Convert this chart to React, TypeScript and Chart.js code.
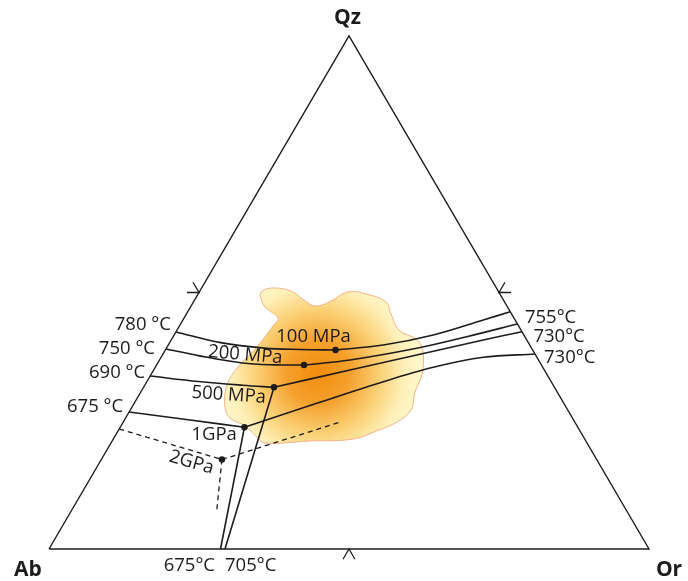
import { useEffect, useRef } from "react";
import { Chart, registerables } from "chart.js";

Chart.register(...registerables);

// All points are ternary compositions [Qz %, Or %]  (Ab = 100 - Qz - Or)
const vertexNames = ["Ab", "Or", "Qz"];
const triangle: number[][] = [[0, 0], [0, 100], [100, 0], [0, 0]];
const edgeMidpoints: number[][] = [[50, 0], [50, 50], [0, 50]];

// isotherm / cotectic traces
const iso780: number[][] = [[42.3, 0], [40.23, 8.48], [39.16, 16.37], [38.89, 22.39], [38.79, 28.36]];
const iso755: number[][] = [[38.79, 28.36], [39.77, 35.83], [41.72, 43.19], [44.64, 50.06], [46.26, 53.74]];
const iso750: number[][] = [[38.99, 0], [37.7, 6.07], [36.26, 14.14], [35.9, 19.72], [35.87, 24.57]];
const iso730a: number[][] = [[35.87, 24.57], [36.84, 31.75], [39.12, 41.72], [41.38, 48.93], [43.86, 56.14]];
const iso690: number[][] = [[33.72, 0], [32.65, 8.59], [31.93, 16.3], [31.52, 21.74]];
const iso730b: number[][] = [[31.52, 21.74], [34.89, 32.72], [37.82, 42.37], [40.74, 52.01], [42.36, 57.64]];
const iso675: number[][] = [[26.71, 0], [25.15, 10.93], [23.74, 20.71]];
const iso730c: number[][] = [[23.74, 20.71], [28.4, 30.42], [32.61, 39.41], [35.42, 46.34], [37.37, 53.7], [38.01, 61.99]];
const cotectic1GPa: number[][] = [[23.74, 20.71], [0, 28.58]];
const cotectic500: number[][] = [[31.52, 21.74], [0, 29.33]];
const dash2GPaLeft: number[][] = [[23.39, 0], [17.45, 20.1]];
const dash2GPaRight: number[][] = [[17.45, 20.1], [24.85, 36.41]];
const dash2GPaDown: number[][] = [[17.45, 20.1], [7.02, 24.41]];

// minimum-melt points
const minimaNames = ["100 MPa", "200 MPa", "500 MPa", "1GPa", "2GPa"];
const minima: number[][] = [[38.79, 28.36], [35.87, 24.57], [31.52, 21.74], [23.74, 20.71], [17.45, 20.1]];

// sample field outline
const sampleField: number[][] = [
  [49.32, 10.51], [50.29, 10.35], [50.88, 11.89], [50.29, 15.18], [48.54, 18.23], [47.37, 20.65],
  [48.15, 22.6], [50.1, 24.78], [49.71, 27.98], [48.15, 32.1], [45.81, 34.1], [42.69, 36.98],
  [40.74, 40.96], [38.4, 43.13], [34.11, 45.11], [30.6, 45.7], [27.1, 46.78], [24.76, 45.62],
  [23.2, 43.4], [21.44, 39.95], [21.05, 32.8], [20.66, 25.67], [21.83, 23.75], [23.98, 20.68],
  [25.54, 17.4], [27.68, 15.49], [31.97, 13.68], [35.48, 13.76], [39.18, 14.91], [43.47, 15.59],
  [45.03, 15.65], [47.17, 12.41], [49.32, 10.51],
];
const fieldCore: number[] = [34.5, 27.6];

const temperatureNames = ["780 °C", "750 °C", "690 °C", "675 °C", "755°C", "730°C", "730°C", "675°C", "705°C"];

const TICK = 2;
const INK = "#1e1b1c";
const FONT = "'Open Sans', 'Noto Sans', sans-serif";

const toXY = (p: number[]) => ({ x: p[1] + p[0] / 2, y: p[0] });

type Label = { text: string; at: number[]; dx: number; dy: number; align: CanvasTextAlign; rot?: number; bold?: boolean; size?: number };

const LABELS: Label[] = [
  { text: vertexNames[2], at: triangle[2], dx: -1.5, dy: -18, align: "center", bold: true, size: 21 },
  { text: vertexNames[0], at: triangle[0], dx: -21, dy: 21, align: "center", bold: true, size: 21 },
  { text: vertexNames[1], at: triangle[1], dx: 20, dy: 21, align: "center", bold: true, size: 21 },
  { text: temperatureNames[0], at: iso780[0], dx: -5, dy: -7, align: "right" },
  { text: temperatureNames[1], at: iso750[0], dx: -11, dy: -0.5, align: "right" },
  { text: temperatureNames[2], at: iso690[0], dx: -5, dy: -3, align: "right" },
  { text: temperatureNames[3], at: iso675[0], dx: -6, dy: -5.5, align: "right" },
  { text: temperatureNames[4], at: iso755[iso755.length - 1], dx: 14.7, dy: 6.3, align: "left" },
  { text: temperatureNames[5], at: iso730a[iso730a.length - 1], dx: 16, dy: 13, align: "left" },
  { text: temperatureNames[6], at: iso730c[iso730c.length - 1], dx: 9, dy: 3.5, align: "left" },
  { text: temperatureNames[7], at: cotectic1GPa[1], dx: -5.5, dy: 16.5, align: "right" },
  { text: temperatureNames[8], at: cotectic500[1], dx: 0, dy: 16.5, align: "left" },
  { text: minimaNames[0], at: minima[0], dx: -22, dy: -13.5, align: "center" },
  { text: minimaNames[1], at: minima[1], dx: -58.7, dy: -10, align: "center", rot: 5 },
  { text: minimaNames[2], at: minima[2], dx: -45.3, dy: 7.7, align: "center", rot: 4 },
  { text: minimaNames[3], at: minima[3], dx: -30.3, dy: 7.8, align: "center" },
  { text: minimaNames[4], at: minima[4], dx: -30.5, dy: 3, align: "center", rot: 16 },
];

const labelPlugin = {
  id: "ternaryLabels",
  afterDatasetsDraw(chart: any) {
    const { ctx, scales } = chart;
    for (const l of LABELS) {
      const p = toXY(l.at);
      const px = scales.x.getPixelForValue(p.x) + l.dx;
      const py = scales.y.getPixelForValue(p.y) + l.dy;
      ctx.save();
      ctx.translate(px, py);
      if (l.rot) ctx.rotate((l.rot * Math.PI) / 180);
      ctx.font = `${l.bold ? "bold " : ""}${l.size || 18.5}px ${FONT}`;
      ctx.fillStyle = INK;
      ctx.textAlign = l.align;
      ctx.textBaseline = "middle";
      ctx.fillText(l.text, 0, 0);
      ctx.restore();
    }
  },
};

function tickSegments(): number[][][] {
  const [left, right, bottom] = edgeMidpoints;
  return [
    [[left[0], left[1] - TICK], left, [left[0] + TICK, left[1] - TICK]],
    [[right[0], right[1] + TICK], right, [right[0] + TICK, right[1]]],
    [[bottom[0] - TICK, bottom[1]], bottom, [bottom[0] - TICK, bottom[1] + TICK]],
  ];
}

const lineDs = (pts: number[][], opts: any = {}) => ({
  type: "scatter" as const,
  data: pts.map(toXY),
  showLine: true,
  borderColor: INK,
  borderWidth: 1.6,
  pointRadius: 0,
  tension: 0.35,
  fill: false,
  order: 1,
  ...opts,
});

export default function App() {
  const ref = useRef<HTMLCanvasElement | null>(null);

  useEffect(() => {
    if (!ref.current) return;
    const datasets: any[] = [
      lineDs(sampleField, {
        borderColor: "#f6b184",
        borderWidth: 1,
        tension: 0.4,
        fill: "shape",
        order: 10,
        backgroundColor: (c: any) => {
          const chart = c.chart;
          if (!chart.chartArea) return "rgba(0,0,0,0)";
          const p = toXY(fieldCore);
          const cx = chart.scales.x.getPixelForValue(p.x);
          const cy = chart.scales.y.getPixelForValue(p.y);
          const g = chart.ctx.createRadialGradient(cx, cy, 0, cx, cy, 105);
          g.addColorStop(0, "rgb(242,140,10)");
          g.addColorStop(0.3, "rgb(245,160,45)");
          g.addColorStop(0.6, "rgb(251,210,120)");
          g.addColorStop(0.82, "rgb(255,240,185)");
          g.addColorStop(1, "rgb(255,248,205)");
          return g;
        },
      }),
      lineDs(triangle, { tension: 0, borderWidth: 1.4 }),
      ...tickSegments().map((s) => lineDs(s, { tension: 0, borderWidth: 1.3 })),
      lineDs(iso780),
      lineDs(iso755),
      lineDs(iso750),
      lineDs(iso730a),
      lineDs(iso690),
      lineDs(iso730b),
      lineDs(iso675),
      lineDs(iso730c),
      lineDs(cotectic1GPa, { tension: 0 }),
      lineDs(cotectic500, { tension: 0 }),
      lineDs(dash2GPaLeft, { tension: 0, borderDash: [5, 4], borderWidth: 1.3 }),
      lineDs(dash2GPaRight, { tension: 0, borderDash: [5, 4], borderWidth: 1.3 }),
      lineDs(dash2GPaDown, { tension: 0, borderDash: [5, 4], borderWidth: 1.3 }),
      {
        type: "scatter" as const,
        data: minima.map(toXY),
        pointRadius: 3.2,
        pointBackgroundColor: INK,
        pointBorderWidth: 0,
        showLine: false,
        order: 0,
      },
    ];

    const chart = new Chart(ref.current, {
      type: "scatter",
      data: { datasets },
      options: {
        animation: false,
        responsive: false,
        maintainAspectRatio: false,
        layout: { padding: 0, autoPadding: false },
        plugins: { legend: { display: false }, tooltip: { enabled: false }, title: { display: false } },
        scales: {
          x: { type: "linear", display: false, min: -49 / 6, max: (688 - 49) / 6 },
          y: { type: "linear", display: false, min: -32 / 5.13, max: 549 / 5.13 },
        },
      },
      plugins: [labelPlugin],
    });
    return () => chart.destroy();
  }, []);

  return (
    <div style={{ position: "absolute", left: 0, top: 0, width: 688, height: 581, background: "#fff" }}>
      <canvas ref={ref} width={688} height={581} style={{ display: "block" }} />
    </div>
  );
}
